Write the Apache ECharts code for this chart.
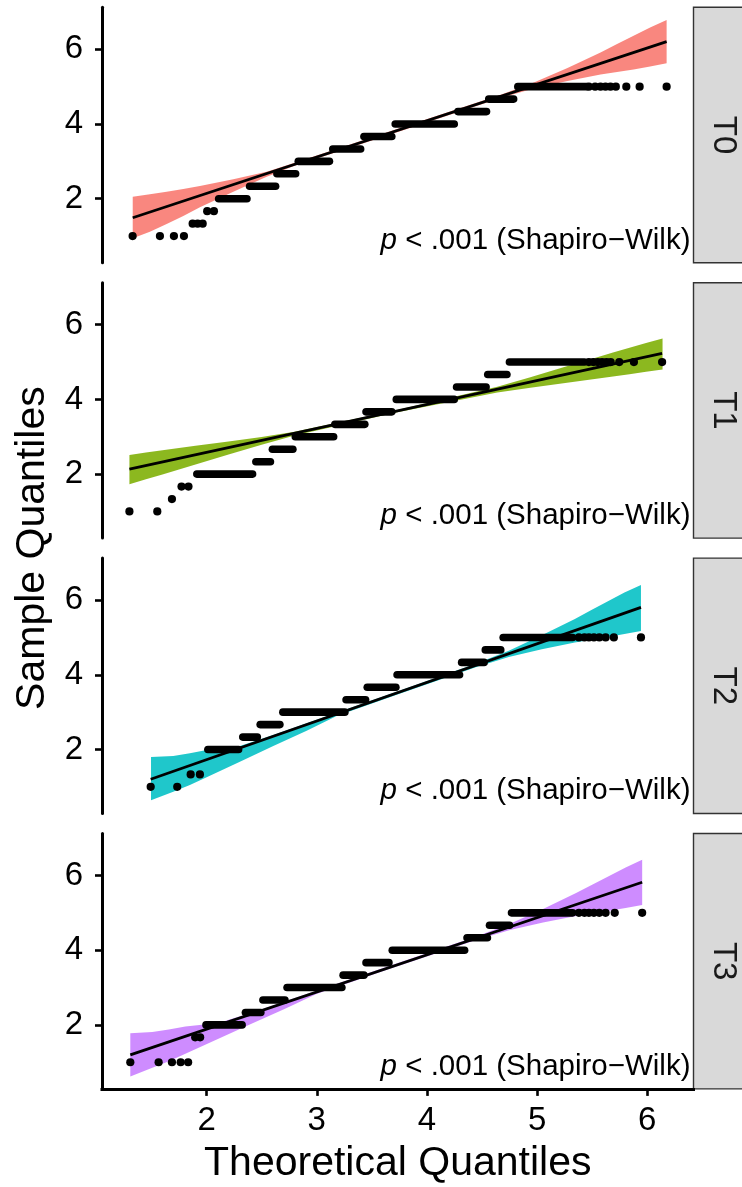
<!DOCTYPE html>
<html>
<head>
<meta charset="utf-8">
<script src="https://cdn.jsdelivr.net/npm/echarts@6/dist/echarts.min.js"></script>
<style>
  html, body { margin: 0; padding: 0; background: #ffffff; }
  #chart { width: 742px; height: 1187px; }
</style>
</head>
<body>
<div id="chart"></div>
<script>
// Facet labels and fill colours of the confidence bands
const groups = ['T0', 'T1', 'T2', 'T3'];
const bandColors = ['#F8766D', '#7CAE00', '#00BFC4', '#C77CFF'];
const xTicks = [2, 3, 4, 5, 6];
const yTicks = [2, 4, 6];
const xTitle = 'Theoretical Quantiles';
const yTitle = 'Sample Quantiles';
const testNote = ' < .001 (Shapiro\u2212Wilk)';

// Runs of overlapping points: [sample quantile, first theoretical quantile, last theoretical quantile]
const runsT0 = [
  [2, 2.109, 2.366], [2.333, 2.39, 2.626], [2.667, 2.638, 2.808], [3, 2.832, 3.115],
  [3.333, 3.145, 3.398], [3.667, 3.428, 3.681], [4, 3.712, 4.248], [4.333, 4.281, 4.541],
  [4.667, 4.561, 4.787], [5, 4.825, 5.45]
];
const dotsT0 = [
  [1.328, 1], [1.576, 1], [1.703, 1], [1.794, 1],
  [1.873, 1.333], [1.918, 1.333], [1.964, 1.333],
  [2.005, 1.667], [2.066, 1.667],
  [5.47, 5], [5.527, 5], [5.576, 5], [5.621, 5], [5.666, 5], [5.715, 5], [5.81, 5], [5.931, 5], [6.176, 5]
];
const lineT0 = [[1.329, 1.49], [6.176, 6.205]];
const bandXT0 = [1.329, 1.485, 1.637, 1.788, 1.939, 2.242, 2.545, 2.786, 3.75, 4.676, 4.976, 5.276, 5.576, 5.726, 5.876, 6.026, 6.176];
const bandLoT0 = [0.94, 1.117, 1.323, 1.537, 1.77, 2.187, 2.589, 2.87, 3.80, 4.70, 4.956, 5.155, 5.324, 5.392, 5.463, 5.537, 5.625];
const bandHiT0 = [2.05, 2.117, 2.187, 2.26, 2.34, 2.519, 2.723, 2.95, 3.89, 4.792, 5.118, 5.503, 5.918, 6.142, 6.363, 6.581, 6.786];

const runsT1 = [
  [2, 1.911, 2.417], [2.333, 2.447, 2.579], [2.667, 2.597, 2.783], [3, 2.805, 3.153],
  [3.333, 3.164, 3.436], [3.667, 3.447, 3.681], [4, 3.722, 4.248], [4.333, 4.269, 4.537],
  [4.667, 4.552, 4.726], [5, 4.749, 5.43]
];
const dotsT1 = [
  [1.299, 1], [1.552, 1],
  [1.685, 1.333],
  [1.772, 1.667], [1.835, 1.667],
  [5.47, 5], [5.51, 5], [5.55, 5], [5.59, 5], [5.63, 5], [5.668, 5], [5.746, 5], [5.879, 5], [6.135, 5]
];
const lineT1 = [[1.299, 2.134], [6.135, 5.232]];
const bandXT1 = [1.299, 1.449, 1.599, 1.749, 1.899, 2.199, 2.499, 2.799, 3.719, 4.639, 4.939, 5.239, 5.539, 5.689, 5.839, 5.989, 6.139];
const bandLoT1 = [1.732, 1.86, 1.991, 2.122, 2.258, 2.525, 2.787, 3.034, 3.65, 4.182, 4.314, 4.431, 4.553, 4.614, 4.675, 4.741, 4.804];
const bandHiT1 = [2.509, 2.58, 2.641, 2.702, 2.758, 2.875, 2.997, 3.134, 3.71, 4.342, 4.594, 4.861, 5.123, 5.254, 5.385, 5.511, 5.634];

const runsT2 = [
  [2, 2.011, 2.29], [2.333, 2.328, 2.46], [2.667, 2.486, 2.665], [3, 2.692, 3.255],
  [3.333, 3.266, 3.443], [3.667, 3.458, 3.718], [4, 3.729, 4.296], [4.333, 4.315, 4.519],
  [4.667, 4.53, 4.67], [5, 4.692, 5.323]
];
const dotsT2 = [
  [1.492, 1], [1.733, 1],
  [1.855, 1.333], [1.939, 1.333],
  [5.38, 5], [5.43, 5], [5.471, 5], [5.516, 5], [5.565, 5], [5.622, 5], [5.697, 5], [5.943, 5]
];
const lineT2 = [[1.492, 1.205], [5.943, 5.804]];
const bandXT2 = [1.495, 1.697, 1.848, 2.0, 2.302, 2.605, 2.908, 3.18, 3.719, 4.443, 4.743, 5.043, 5.343, 5.493, 5.643, 5.793, 5.943];
const bandLoT2 = [0.64, 0.87, 1.05, 1.255, 1.673, 2.093, 2.503, 2.897, 3.46, 4.201, 4.475, 4.687, 4.867, 4.94, 5.015, 5.095, 5.17];
const bandHiT2 = [1.80, 1.826, 1.898, 1.987, 2.093, 2.388, 2.70, 2.985, 3.54, 4.299, 4.647, 5.057, 5.497, 5.736, 5.971, 6.203, 6.402];

const runsT3 = [
  [2, 1.994, 2.322], [2.333, 2.352, 2.492], [2.667, 2.511, 2.711], [3, 2.73, 3.228],
  [3.333, 3.239, 3.428], [3.667, 3.447, 3.655], [4, 3.685, 4.342], [4.333, 4.364, 4.549],
  [4.667, 4.568, 4.75], [5, 4.768, 5.323]
];
const dotsT3 = [
  [1.307, 1], [1.564, 1], [1.685, 1], [1.764, 1], [1.832, 1],
  [1.896, 1.667], [1.941, 1.667],
  [5.38, 5], [5.43, 5], [5.471, 5], [5.516, 5], [5.565, 5], [5.622, 5], [5.705, 5], [5.954, 5]
];
const lineT3 = [[1.307, 1.196], [5.954, 5.82]];
const bandXT3 = [1.307, 1.507, 1.657, 1.807, 2.107, 2.407, 2.707, 2.997, 3.63, 4.454, 4.754, 5.054, 5.354, 5.504, 5.654, 5.804, 5.954];
const bandLoT3 = [0.616, 0.856, 1.028, 1.226, 1.629, 2.034, 2.428, 2.829, 3.47, 4.279, 4.542, 4.743, 4.914, 4.982, 5.054, 5.128, 5.214];
const bandHiT3 = [1.777, 1.812, 1.876, 1.958, 2.049, 2.329, 2.625, 2.917, 3.55, 4.375, 4.71, 5.105, 5.532, 5.762, 5.99, 6.214, 6.42];

// ---- layout ----
const FONT = '"Liberation Sans", Arial, sans-serif';
const PANEL_LEFT = 102;
const PANEL_W = 591.5;
const PANEL_H = 255.4;
const PANEL_TOPS = [7.3, 282.7, 558.1, 833.5];
const X_RANGE = [1.05, 6.42];
const Y_RANGE = [0.287, 7.125];
const DOT = 7.6;

const panels = [
  { runs: runsT0, dots: dotsT0, line: lineT0, bx: bandXT0, lo: bandLoT0, hi: bandHiT0 },
  { runs: runsT1, dots: dotsT1, line: lineT1, bx: bandXT1, lo: bandLoT1, hi: bandHiT1 },
  { runs: runsT2, dots: dotsT2, line: lineT2, bx: bandXT2, lo: bandLoT2, hi: bandHiT2 },
  { runs: runsT3, dots: dotsT3, line: lineT3, bx: bandXT3, lo: bandLoT3, hi: bandHiT3 }
];

const grids = [], xAxes = [], yAxes = [], series = [], graphics = [];

panels.forEach((p, i) => {
  const isBottom = i === panels.length - 1;
  grids.push({ left: PANEL_LEFT, top: PANEL_TOPS[i], width: PANEL_W, height: PANEL_H, containLabel: false });

  xAxes.push({
    gridIndex: i, type: 'value', min: X_RANGE[0], max: X_RANGE[1],
    show: isBottom,
    axisLine: { show: true, onZero: false, lineStyle: { color: '#000', width: 3, cap: 'square' } },
    axisTick: { show: true, length: 7, lineStyle: { color: '#000', width: 2.6 }, customValues: xTicks },
    axisLabel: { customValues: xTicks, fontSize: 33, fontFamily: FONT, color: '#000', margin: 16 },
    splitLine: { show: false }
  });

  yAxes.push({
    gridIndex: i, type: 'value', min: Y_RANGE[0], max: Y_RANGE[1],
    axisLine: { show: true, onZero: false, lineStyle: { color: '#000', width: 3 } },
    axisTick: { show: true, length: 7, lineStyle: { color: '#000', width: 2.6 }, customValues: yTicks },
    axisLabel: { customValues: yTicks, fontSize: 33, fontFamily: FONT, color: '#000', margin: 19 },
    splitLine: { show: false }
  });

  // confidence band
  series.push({
    type: 'custom', xAxisIndex: i, yAxisIndex: i, silent: true, z: 1,
    data: [[p.bx[0], p.lo[0]]],
    encode: { x: 0, y: 1 },
    renderItem: (params, api) => {
      const pts = [];
      for (let k = 0; k < p.bx.length; k++) pts.push(api.coord([p.bx[k], p.hi[k]]));
      for (let k = p.bx.length - 1; k >= 0; k--) pts.push(api.coord([p.bx[k], p.lo[k]]));
      return { type: 'polygon', shape: { points: pts }, style: { fill: bandColors[i], opacity: 0.88 } };
    }
  });

  // runs of stacked points drawn as round-capped strokes
  series.push({
    type: 'custom', xAxisIndex: i, yAxisIndex: i, silent: true, z: 2,
    data: p.runs,
    encode: { x: [1, 2], y: 0 },
    renderItem: (params, api) => {
      const s = api.coord([api.value(1), api.value(0)]);
      const e = api.coord([api.value(2), api.value(0)]);
      return {
        type: 'line',
        shape: { x1: s[0], y1: s[1], x2: e[0], y2: e[1] },
        style: { stroke: '#000', lineWidth: DOT, lineCap: 'round' }
      };
    }
  });

  // separate points
  series.push({
    type: 'scatter', xAxisIndex: i, yAxisIndex: i, silent: true, z: 2,
    data: p.dots, symbol: 'circle', symbolSize: DOT + 0.6,
    itemStyle: { color: '#000', opacity: 1 }
  });

  // reference line
  series.push({
    type: 'line', xAxisIndex: i, yAxisIndex: i, silent: true, z: 3,
    data: p.line, showSymbol: false, symbol: 'none',
    lineStyle: { color: '#000', width: 2.8 }
  });

  // strip on the right
  const top = PANEL_TOPS[i];
  graphics.push({
    type: 'rect', silent: true,
    shape: { x: PANEL_LEFT + PANEL_W, y: top, width: 60, height: PANEL_H },
    style: { fill: '#D9D9D9', stroke: '#333333', lineWidth: 1.4 }
  });
  graphics.push({
    type: 'text', silent: true,
    x: 723, y: top + PANEL_H / 2, rotation: -Math.PI / 2,
    style: { text: groups[i], font: '33px ' + FONT, fill: '#1A1A1A', align: 'center', verticalAlign: 'middle' }
  });

  // normality test note
  graphics.push({
    type: 'text', silent: true,
    x: 690.5, y: top + PANEL_H - 22.3,
    style: {
      text: '{it|p}{n|' + testNote + '}',
      align: 'right', verticalAlign: 'middle',
      font: '29.5px ' + FONT, fill: '#000',
      rich: {
        it: { fontStyle: 'italic', fontSize: 29.5, fontFamily: FONT, fill: '#000' },
        n: { fontSize: 29.5, fontFamily: FONT, fill: '#000' }
      }
    }
  });
});

// axis titles
graphics.push({
  type: 'text', silent: true,
  x: PANEL_LEFT + PANEL_W / 2, y: 1163.3,
  style: { text: xTitle, font: '41px ' + FONT, fill: '#000', align: 'center', verticalAlign: 'middle' }
});
graphics.push({
  type: 'text', silent: true,
  x: 33, y: (PANEL_TOPS[0] + PANEL_TOPS[3] + PANEL_H) / 2, rotation: Math.PI / 2,
  style: { text: yTitle, font: '41px ' + FONT, fill: '#000', align: 'center', verticalAlign: 'middle' }
});

const chart = echarts.init(document.getElementById('chart'), null, { renderer: 'canvas' });
chart.setOption({
  backgroundColor: '#ffffff',
  animation: false,
  grid: grids,
  xAxis: xAxes,
  yAxis: yAxes,
  series: series,
  graphic: { elements: graphics }
});
</script>
</body>
</html>
